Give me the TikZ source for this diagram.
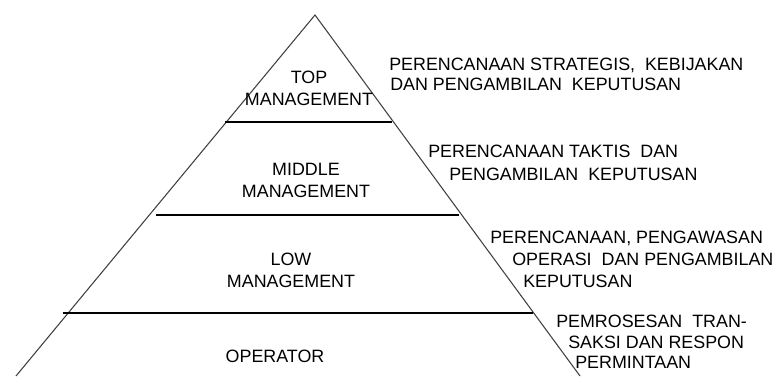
\documentclass[tikz,border=0pt]{standalone}
\usepackage{fontspec}
\setmainfont{Liberation Sans}
\usetikzlibrary{calc}
\newcommand{\LEVELFONT}{\fontsize{13.4pt}{16pt}\selectfont}
\tikzset{
  level text/.style={inner sep=0pt,anchor=base,align=center,font=\LEVELFONT},
  note text/.style={inner sep=0pt,anchor=base west,font=\LEVELFONT},
  side line/.style={draw=black!75,line width=0.8pt},
  divider/.style={draw=black,line width=1pt},
}

\begin{document}
\begin{tikzpicture}[x=0.75pt,y=-0.75pt]
    \useasboundingbox (0,0) rectangle (776,376);
    % pyramid outline
    \coordinate (apex) at (315,15);
    \coordinate (base left) at (16,376);
    \coordinate (base right) at (580,376);
    \draw[side line] (base left) -- (apex) -- (base right);
    % level dividers
    \coordinate (top l) at (225,122);
    \coordinate (top r) at (392,122);
    \coordinate (mid l) at (156,215);
    \coordinate (mid r) at (459,215);
    \coordinate (low l) at (63,313);
    \coordinate (low r) at (533,313);
    \draw[divider] (top l) -- (top r);
    \draw[divider] (mid l) -- (mid r);
    \draw[divider] (low l) -- (low r);
    % levels (base = last line)
    \node[level text] (top) at (309,105) {TOP\\MANAGEMENT};
    \node[level text] (middle) at (306,197) {MIDDLE\\MANAGEMENT};
    \node[level text] (low) at (291,287) {LOW\\MANAGEMENT};
    \node[level text] (operator) at (275,362) {OPERATOR};
    % descriptions
    \node[note text] (strat a) at (389,70) {PERENCANAAN STRATEGIS,\ \ KEBIJAKAN};
    \node[note text] (strat b) at (390,90) {DAN PENGAMBILAN\ \ KEPUTUSAN};
    \node[note text] (takt a) at (428,157) {PERENCANAAN TAKTIS\ \ DAN};
    \node[note text] (takt b) at (449,180) {PENGAMBILAN\ \ KEPUTUSAN};
    \node[note text] (ops a) at (490,243) {PERENCANAAN, PENGAWASAN};
    \node[note text] (ops b) at (512,265) {OPERASI\ \ DAN PENGAMBILAN};
    \node[note text] (ops c) at (523,287) {KEPUTUSAN};
    \node[note text] (trx a) at (556,327) {PEMROSESAN\ \ TRAN-};
    \node[note text] (trx b) at (568,348) {SAKSI DAN RESPON};
    \node[note text] (trx c) at (575,368) {PERMINTAAN};
\end{tikzpicture}
\end{document}
